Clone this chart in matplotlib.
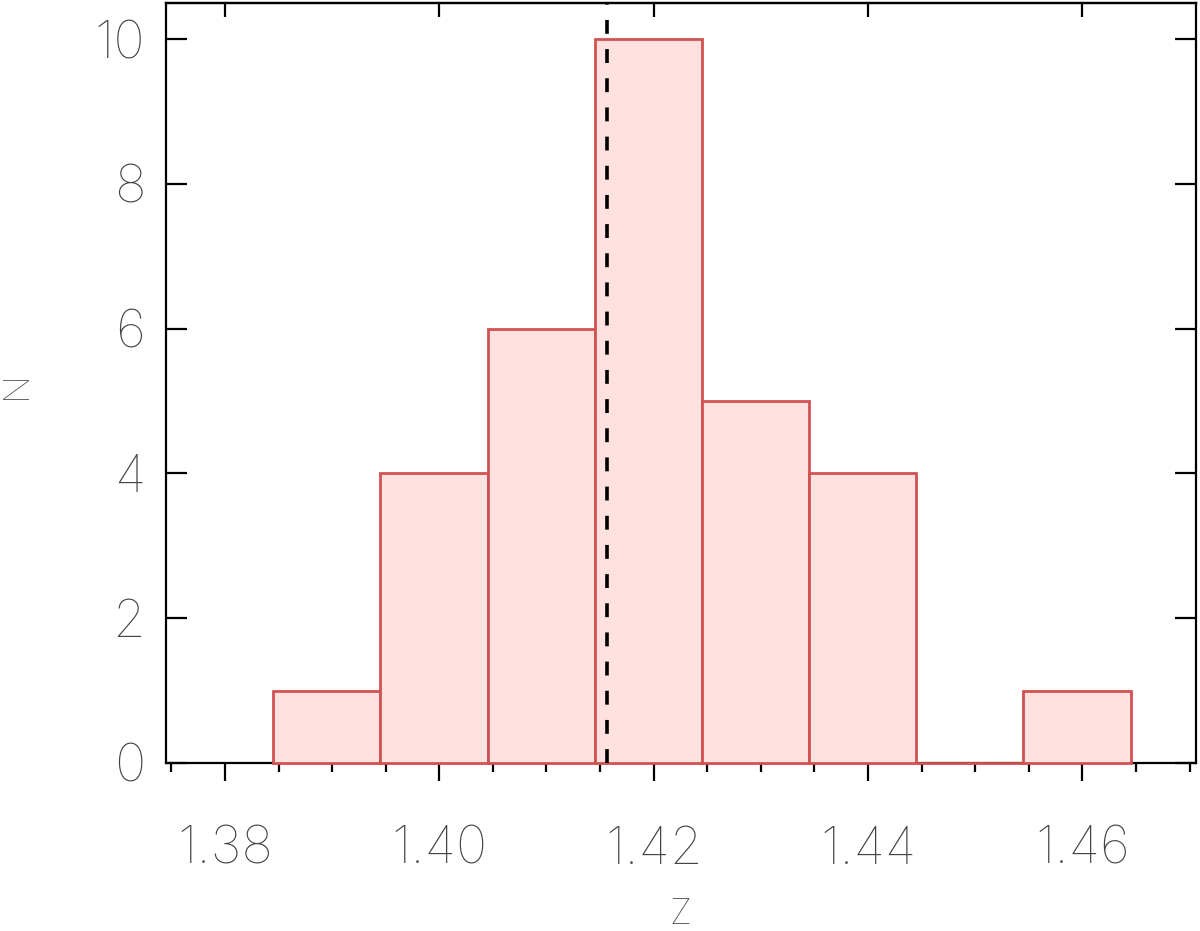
import matplotlib
matplotlib.use("Agg")
import matplotlib.pyplot as plt
from matplotlib import font_manager as fm
from matplotlib.ticker import MultipleLocator
import numpy as np

# ---- data ----
bin_edges = [1.3845, 1.3945, 1.4045, 1.4145, 1.4245, 1.4345, 1.4445, 1.4545, 1.4645]
counts = [1, 4, 6, 10, 5, 4, 0, 1]
z_mark = 1.4156
x_major_ticks = [1.38, 1.40, 1.42, 1.44, 1.46]
x_tick_labels = ["1.38", "1.40", "1.42", "1.44", "1.46"]
y_major_ticks = [0, 2, 4, 6, 8, 10]
x_label = "Z"
y_label = "N"

# ---- pick a light font if available ----
def _w(f):
    w = f.weight
    if isinstance(w, str):
        w = fm.weight_dict.get(w, 400)
    return w

prefs = ["Roboto", "Noto Sans", "Open Sans", "Lato", "Inter", "DejaVu Sans"]
best = None
for fam in prefs:
    cands = [f for f in fm.fontManager.ttflist if f.name == fam and f.style == "normal"]
    if cands:
        c = min(cands, key=_w)
        if best is None or _w(c) < _w(best):
            best = c
if best is not None:
    fp_tick = fm.FontProperties(fname=best.fname, size=38)
    fp_lab = fm.FontProperties(fname=best.fname, size=26)
else:
    fp_tick = fm.FontProperties(family="DejaVu Sans", size=37)
    fp_lab = fm.FontProperties(family="DejaVu Sans", size=26)

txt_color = "#444444"
plt.rcParams['lines.scale_dashes'] = False

fig = plt.figure(figsize=(12, 9.31), dpi=100)
ax = fig.add_axes([166/1200, 1-763/931, (1196-166)/1200, (763-3)/931])

widths = np.diff(bin_edges)
ax.bar(bin_edges[:-1], counts, width=widths, align="edge",
       facecolor="#ffe2e0", edgecolor="#d05252", linewidth=2.0,
       zorder=3, clip_on=False)

ax.axvline(z_mark, color="black", linewidth=2.6, dashes=(10, 11), zorder=4)

ax.set_xlim(1.3745, 1.4706)
ax.set_ylim(0, 10.5)

for s in ax.spines.values():
    s.set_linewidth(1.6)
    s.set_color("black")

ax.set_xticks(x_major_ticks)
ax.set_xticklabels(x_tick_labels)
ax.xaxis.set_minor_locator(MultipleLocator(0.005))
ax.tick_params(axis="x", which="major", direction="out", length=13, width=1.6,
               top=False, bottom=True, pad=32, colors="black")
ax.tick_params(axis="x", which="minor", direction="out", length=6.5, width=1.6,
               top=False, bottom=True)
for lab in ax.get_xticklabels():
    lab.set_fontproperties(fp_tick)
    lab.set_color(txt_color)

ax.set_yticks(y_major_ticks)
ax.tick_params(axis="y", which="major", direction="in", length=15, width=1.6,
               left=True, right=True, pad=15)
for lab in ax.get_yticklabels():
    lab.set_fontproperties(fp_tick)
    lab.set_color(txt_color)

# top axis: major ticks only, inward
top = ax.secondary_xaxis("top")
top.set_xticks(x_major_ticks)
top.tick_params(axis="x", which="major", direction="in", length=10, width=1.6,
                labeltop=False)
top.tick_params(axis="x", which="minor", length=0)
top.spines["top"].set_linewidth(1.6)

fig.text(680/1200, 1-914/931, x_label, fontproperties=fp_lab, color=txt_color,
         ha="center", va="center")
fig.text(16/1200, 1-385/931, y_label, fontproperties=fp_lab, color=txt_color,
         ha="center", va="center", rotation=90)

fig.savefig("out.png", dpi=100)
